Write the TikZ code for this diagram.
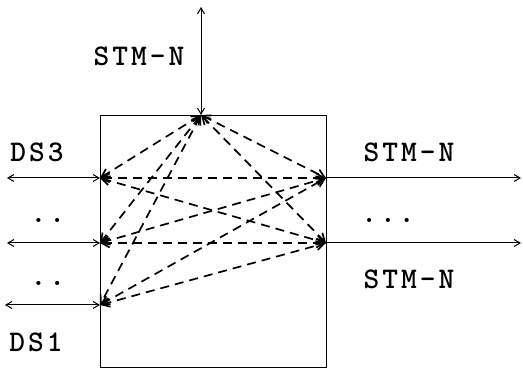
\documentclass[tikz,border=0pt]{standalone}
\usepackage{fontspec}
\newfontfamily\lblfont[LetterSpace=10]{lmmonolt10-bold.otf}
\usetikzlibrary{arrows.meta}
\tikzset{
  port/.style={line width=1pt, {Straight Barb[length=6pt,width=7pt]}-{Straight Barb[length=6pt,width=7pt]}},
  link/.style={line width=1.7pt, dash pattern=on 9pt off 6pt, {Straight Barb[length=8pt,width=9pt]}-{Straight Barb[length=8pt,width=9pt]}},
  lbl/.style={font=\lblfont\fontsize{30}{32}\selectfont}
}
\begin{document}
\begin{tikzpicture}[x=20pt,y=20pt]
    \useasboundingbox (0,0) rectangle (26.15,18.45);
    \def\l{5}
    \def\r{16.3}
    \draw[line width=0.5pt] (\l,0.1) rectangle (\r,12.7);

    \coordinate (T) at (10.05,12.7);
    \coordinate (Ttop) at (10.05,18.1);
    \coordinate (L1) at (\l,9.55);
    \coordinate (L2) at (\l,6.3);
    \coordinate (L3) at (\l,3.2);
    \coordinate (R1) at (\r,9.55);
    \coordinate (R2) at (\r,6.3);
    \coordinate (L1o) at (0.35,9.55);
    \coordinate (L2o) at (0.35,6.3);
    \coordinate (L3o) at (0.25,3.2);
    \coordinate (R1o) at (26.05,9.55);
    \coordinate (R2o) at (26.05,6.3);

    \node[lbl] (stmtop) at (6.95,15.65) {STM-N};
    \node[lbl] (ds3) at (1.85,10.85) {DS3};
    \node[lbl] (dotsa) at (2.4,7.45) {..};
    \node[lbl] (dotsb) at (2.4,4.3) {..};
    \node[lbl] (ds1) at (1.8,1.35) {DS1};
    \node[lbl] (stmr1) at (20.45,10.85) {STM-N};
    \node[lbl] (dotsr) at (19.4,7.45) {...};
    \node[lbl] (stmr2) at (20.45,4.5) {STM-N};

    \draw[port] (Ttop) -- (T);
    \draw[port] (L1o) -- (L1);
    \draw[port] (L2o) -- (L2);
    \draw[port] (L3o) -- (L3);
    \draw[port, {Straight Barb[length=6pt,width=7pt]}-] (R1o) -- (R1);
    \draw[port, {Straight Barb[length=6pt,width=7pt]}-] (R2o) -- (R2);

    \draw[link] (T) -- (L1);
    \draw[link] (T) -- (L2);
    \draw[link] (T) -- (L3);
    \draw[link] (T) -- (R1);
    \draw[link] (T) -- (R2);
    \draw[link] (L1) -- (R1);
    \draw[link] (L1) -- (R2);
    \draw[link] (L2) -- (R1);
    \draw[link] (L2) -- (R2);
    \draw[link] (L3) -- (R1);
    \draw[link] (L3) -- (R2);
  \end{tikzpicture}
\end{document}
